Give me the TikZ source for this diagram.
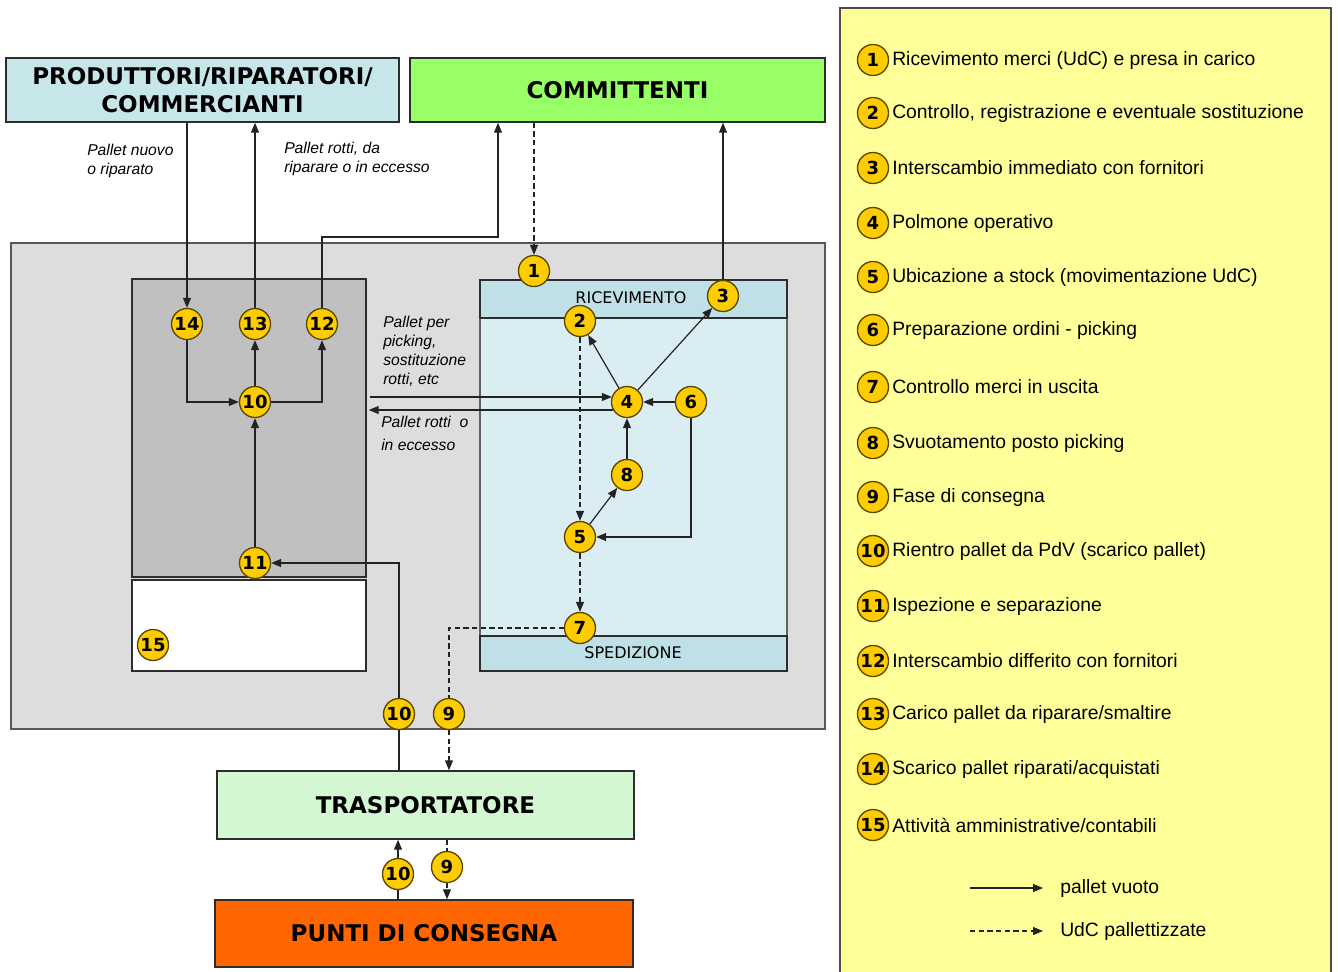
\documentclass[tikz,border=0pt]{standalone}
\usepackage{fontspec}
\setmainfont{Liberation Sans}
\newfontfamily\djv{DejaVu Sans}
\usetikzlibrary{arrows.meta,calc}

\definecolor{prodfill}{RGB}{198,230,234}
\definecolor{commfill}{RGB}{153,255,102}
\definecolor{plantfill}{RGB}{221,221,221}
\definecolor{darkfill}{RGB}{192,192,192}
\definecolor{panelfill}{RGB}{218,237,242}
\definecolor{bandfill}{RGB}{190,224,230}
\definecolor{traspfill}{RGB}{210,247,210}
\definecolor{puntifill}{RGB}{255,102,0}
\definecolor{legfill}{RGB}{255,255,153}
\definecolor{gold}{RGB}{255,204,0}
\definecolor{numedge}{RGB}{90,72,0}
\definecolor{boxedge}{RGB}{45,45,45}
\definecolor{linecol}{RGB}{35,35,35}

\pgfdeclarelayer{boxes}
\pgfdeclarelayer{lines}
\pgfsetlayers{boxes,lines,main}

\tikzset{
  box/.style={draw=boxedge, line width=1.1pt, inner sep=0pt, align=center},
  titlebox/.style={box, font=\djv\bfseries\fontsize{17.25pt}{21pt}\selectfont},
  bandlabel/.style={font=\djv\fontsize{12pt}{14pt}\selectfont, inner sep=0pt},
  num/.style={circle, fill=gold, draw=numedge, line width=1pt, minimum size=23.25pt,
              inner sep=0pt, font=\djv\bfseries\fontsize{13.5pt}{14pt}\selectfont},
  flow/.style={draw=linecol, line width=0.9pt, -{Triangle[length=7.5pt,width=6pt]}},
  udc/.style={dash pattern=on 4pt off 2.5pt},
  note/.style={font=\itshape\fontsize{11.75pt}{14.25pt}\selectfont, align=left,
               anchor=north west, inner sep=0pt},
  legtext/.style={font=\fontsize{14.5pt}{17pt}\selectfont, anchor=west, inner sep=0pt}
}

\begin{document}
\begin{tikzpicture}[x=0.75pt,y=-0.75pt]
\useasboundingbox (0,0) rectangle (1338,971);

% ---------- areas and boxes ----------
\begin{pgfonlayer}{boxes}
  \fill[white] (0,0) rectangle (1338,971);
  \node[titlebox, fill=prodfill, minimum width=294.75pt, minimum height=48pt]
    (prod) at (202.5,90) {PRODUTTORI/RIPARATORI/\\COMMERCIANTI};
  \node[titlebox, fill=commfill, minimum width=311.25pt, minimum height=48pt]
    (comm) at (617.5,90) {COMMITTENTI};
  \node[box, draw=boxedge!80, fill=plantfill, minimum width=610.5pt, minimum height=364.5pt]
    (plant) at (418,486) {};
  \node[box, fill=darkfill, minimum width=175.5pt, minimum height=223.5pt]
    (dark) at (249,428) {};
  \node[box, fill=white, minimum width=175.5pt, minimum height=68.25pt]
    (admin) at (249,625.5) {};
  \node[box, draw=boxedge!75, fill=panelfill, minimum width=230.25pt, minimum height=293.25pt]
    (panel) at (633.5,475.5) {};
  \node[box, fill=bandfill, minimum width=230.25pt, minimum height=28.5pt]
    (ric) at (633.5,299) {};
  \node[bandlabel] (ricl) at (631,298) {RICEVIMENTO};
  \node[box, fill=bandfill, minimum width=230.25pt, minimum height=26.25pt]
    (sped) at (633.5,653.5) {};
  \node[bandlabel] (spedl) at (633,653) {SPEDIZIONE};
  \node[titlebox, fill=traspfill, minimum width=312.75pt, minimum height=51pt]
    (trasp) at (425.5,805) {TRASPORTATORE};
  \node[titlebox, fill=puntifill, minimum width=313.5pt, minimum height=50.25pt]
    (punti) at (424,933.5) {PUNTI DI CONSEGNA};
  % legend panel, running off the lower edge
  \draw[draw=boxedge!85, line width=1.1pt, fill=legfill] (840,8) rectangle (1331,995);
\end{pgfonlayer}

% ---------- numbered activities ----------
\node[num] (c1)  at (534,271) {1};
\node[num] (c2)  at (580,321) {2};
\node[num] (c3)  at (723,296) {3};
\node[num] (c4)  at (627,402) {4};
\node[num] (c5)  at (580,537) {5};
\node[num] (c6)  at (691,402) {6};
\node[num] (c7)  at (580,628) {7};
\node[num] (c8)  at (627,475) {8};
\node[num] (c9a) at (449,714) {9};
\node[num] (c10a) at (399,714) {10};
\node[num] (c10b) at (255,402) {10};
\node[num] (c11) at (255,563) {11};
\node[num] (c12) at (322,324) {12};
\node[num] (c13) at (255,324) {13};
\node[num] (c14) at (187,324) {14};
\node[num] (c15) at (153,645) {15};
\node[num] (c10c) at (398,874) {10};
\node[num] (c9b) at (447,867) {9};

% ---------- notes on the flows ----------
\node[note] (n1) at (87,144) {Pallet nuovo\\o riparato};
\node[note] (n2) at (284,142) {Pallet rotti, da\\riparare o in eccesso};
\node[note] (n3) at (383,316) {Pallet per\\picking,\\sostituzione\\rotti, etc};
\node[note, font=\itshape\fontsize{11.75pt}{17.25pt}\selectfont] (n4) at (381,416)
  {Pallet rotti\ \ o\\in eccesso};

% ---------- legend ----------
\foreach \n/\yy/\txt in {
  1/60/{Ricevimento merci (UdC) e presa in carico},
  2/113/{Controllo, registrazione e eventuale sostituzione},
  3/168/{Interscambio immediato con fornitori},
  4/223/{Polmone operativo},
  5/277/{Ubicazione a stock (movimentazione UdC)},
  6/330/{Preparazione ordini - picking},
  7/387/{Controllo merci in uscita},
  8/443/{Svuotamento posto picking},
  9/497/{Fase di consegna},
  10/551/{Rientro pallet da PdV (scarico pallet)},
  11/606/{Ispezione e separazione},
  12/661/{Interscambio differito con fornitori},
  13/714/{Carico pallet da riparare/smaltire},
  14/769/{Scarico pallet riparati/acquistati},
  15/825/{Attività amministrative/contabili}} {
  \node[num] (lg\n) at (873,\yy) {\n};
  \node[legtext] (lt\n) at (892,\yy) {\txt};
}
\node[legtext] (lsolid) at (1060,888) {pallet vuoto};
\node[legtext] (ldash) at (1060,931) {UdC pallettizzate};
\coordinate (la1) at (970,888);
\coordinate (la2) at (1043,888);
\coordinate (lb1) at (970,931);
\coordinate (lb2) at (1043,931);

% ---------- flows ----------
\begin{pgfonlayer}{lines}
  \coordinate (k12) at (498,237);
  \draw[flow] (c14 |- prod.south) -- (c14);
  \draw[flow] (c13) -- (c13 |- prod.south);
  \draw[flow] (c12) |- (k12) -- (k12 |- comm.south);
  \draw[flow, udc] (c1 |- comm.south) -- (c1);
  \draw[flow] (c3) -- (c3 |- comm.south);
  \draw[flow] (c14) |- (c10b);
  \draw[flow] (c10b) -- (c13);
  \draw[flow] (c10b) -| (c12);
  \draw[flow] (c11) -- (c10b);
  \draw[flow] (c10a |- trasp.north) -- (c10a |- c11) -- (c11);
  \draw[flow, udc] (c7) -| (c9a |- trasp.north);
  \draw[flow] (c10c |- punti.north) -- (c10c |- trasp.south);
  \draw[flow, udc] (c9b |- trasp.south) -- (c9b |- punti.north);
  \draw[flow] ($(dark.east |- c4)+(3,-5)$) -- ($(c4.west)+(1,-5)$);
  \draw[flow] ($(c4.west)+(2,8)$) -- ($(dark.east |- c4)+(2,8)$);
  \draw[flow] (c4) -- (c2);
  \draw[flow] (c4) -- (c3);
  \draw[flow] (c6) -- (c4);
  \draw[flow] (c8) -- (c4);
  \draw[flow] (c5) -- (c8);
  \draw[flow] (c6) |- (c5);
  \draw[flow, udc] (c2) -- (c5);
  \draw[flow, udc] (c5) -- (c7);
  \draw[flow] (la1) -- (la2);
  \draw[flow, udc] (lb1) -- (lb2);
\end{pgfonlayer}
\end{tikzpicture}
\end{document}
